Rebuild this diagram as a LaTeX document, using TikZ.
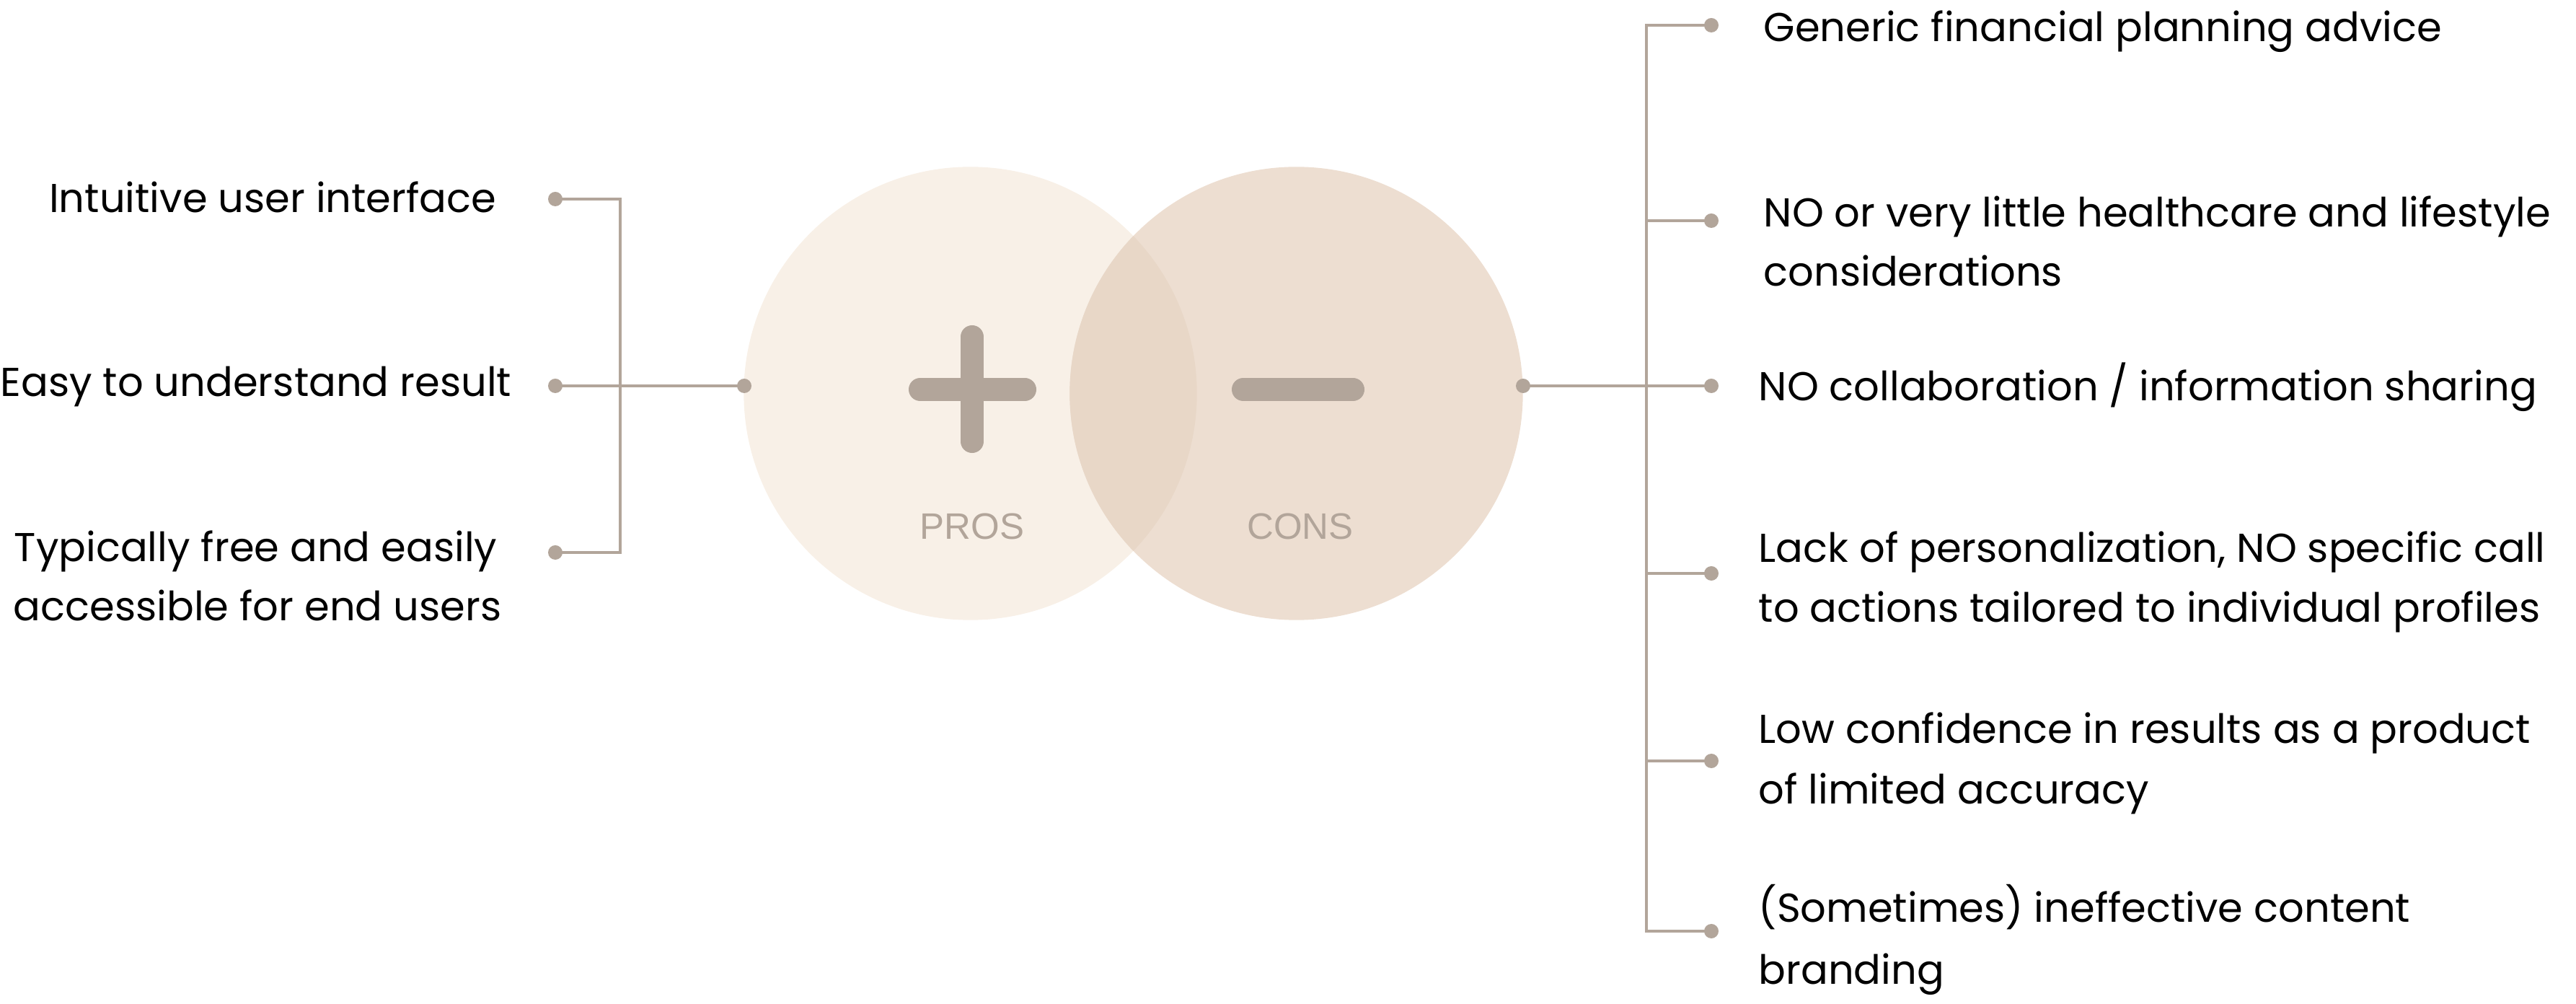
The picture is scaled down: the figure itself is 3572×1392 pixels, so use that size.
\documentclass[tikz,border=0pt]{standalone}
\usepackage{fontspec}
\setmainfont{Poppins}
\newfontfamily\labelfont{Liberation Sans}
\definecolor{proscol}{HTML}{F8F0E7}
\definecolor{conscol}{HTML}{EDDED1}
\definecolor{overcol}{HTML}{E8D7C7}
\definecolor{greycol}{HTML}{B2A59A}
\tikzset{
  conn/.style={draw=greycol, line width=1.15pt},
  dot/.style={circle, fill=greycol, inner sep=0pt, minimum size=0.2cm},
  item/.style={font=\fontsize{15.9pt}{20pt}\selectfont, text=black, inner sep=0pt},
  itemL/.style={item, anchor=base east},
  itemR/.style={item, anchor=base west},
  tag/.style={font=\labelfont\fontsize{14.5pt}{17pt}\selectfont, text=greycol, inner sep=0pt, anchor=base},
  bar/.style={draw=greycol, line width=0.32cm, line cap=round}
}
\begin{document}
\begin{tikzpicture}[x=0.01cm, y=-0.01cm]
\useasboundingbox (0,0) rectangle (3572,1392);
% circles
\fill[proscol] (1345.5,545.5) circle (3.14cm);
\fill[conscol] (1797.5,545.5) circle (3.14cm);
\begin{scope}
  \clip (1345.5,545.5) circle (3.14cm);
  \fill[overcol] (1797.5,545.5) circle (3.14cm);
\end{scope}
\node[circle, minimum size=6.28cm, inner sep=0pt] (pros) at (1345.5,545.5) {};
\node[circle, minimum size=6.28cm, inner sep=0pt] (cons) at (1797.5,545.5) {};
% plus and minus
\draw[bar] (1276,540) -- (1421,540);
\draw[bar] (1348,467) -- (1348,612);
\draw[bar] (1724,540) -- (1876,540);
\node[tag] (prostag) at (1348,748) {PROS};
\node[tag] (constag) at (1803,748) {CONS};
% dot positions
\coordinate (dL0) at (1032,535);
\coordinate (dL1) at (770,276);
\coordinate (dL2) at (770,535);
\coordinate (dL3) at (770,766);
\coordinate (jl) at (860,535);
\coordinate (dR0) at (2112,535);
\coordinate (jr) at (2283,535);
\coordinate (dR1) at (2373,35);
\coordinate (dR2) at (2373,306);
\coordinate (dR3) at (2373,535);
\coordinate (dR4) at (2373,795);
\coordinate (dR5) at (2373,1055);
\coordinate (dR6) at (2373,1291);
% connectors
\draw[conn] (dL1) -| (jl);
\draw[conn] (dL3) -| (jl);
\draw[conn] (dL2) -- (dL0);
\draw[conn] (dR0) -- (dR3);
\foreach \k in {1,2,4,5,6} { \draw[conn] (jr) |- (dR\k); }
% dots
\foreach \k in {0,1,2,3} { \node[dot] (pL\k) at (dL\k) {}; }
\foreach \k in {0,1,2,3,4,5,6} { \node[dot] (pR\k) at (dR\k) {}; }
% left texts
\node[itemL] (t1) at (689,295) {Intuitive user interface};
\node[itemL] (t2) at (710,550) {Easy to understand result};
\node[itemL] (t3a) at (690,779) {Typically free and easily};
\node[itemL] (t3b) at (696,861) {accessible for end users};
% right texts
\node[itemR] (c1) at (2445,58) {Generic financial planning advice};
\node[itemR] (c2a) at (2445,315) {NO or very little healthcare and lifestyle};
\node[itemR] (c2b) at (2445,397) {considerations};
\node[itemR] (c3) at (2438,556) {NO collaboration / information sharing};
\node[itemR] (c4a) at (2438,780) {Lack of personalization, NO specific call};
\node[itemR] (c4b) at (2438,863) {to actions tailored to individual profiles};
\node[itemR] (c5a) at (2438,1031) {Low confidence in results as a product};
\node[itemR] (c5b) at (2438,1115) {of limited accuracy};
\node[itemR] (c6a) at (2438,1278) {(Sometimes) ineffective content};
\node[itemR] (c6b) at (2438,1364) {branding};
\end{tikzpicture}
\end{document}
